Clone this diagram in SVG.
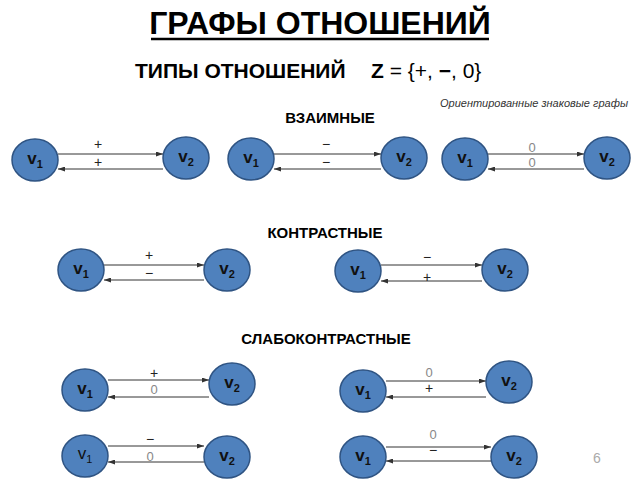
<svg xmlns="http://www.w3.org/2000/svg" width="640" height="480" viewBox="0 0 640 480">
<defs>
<marker id="ah" markerWidth="7" markerHeight="5" refX="7" refY="2.5" orient="auto" markerUnits="userSpaceOnUse">
<path d="M0,0 L7,2.5 L0,5 z" fill="#333"/>
</marker>
<style>
.t{font-family:"Liberation Sans",Arial,sans-serif;fill:#000}
.n ellipse{fill:#4f81bd;stroke:#2f5483;stroke-width:1.5}
.n text{font-family:"Liberation Sans",Arial,sans-serif;font-weight:bold;font-size:17px;fill:#111;text-anchor:middle}
.n text tspan{font-size:11px}
.e line{stroke:#333;stroke-width:1;marker-end:url(#ah)}
.l{font-family:"Liberation Sans",Arial,sans-serif;font-size:14px;fill:#222;text-anchor:middle}
.z{fill:#888;font-size:13px}
</style>
</defs>
<rect width="640" height="480" fill="#fff"/>
<text class="t" x="320" y="34" font-size="32" font-weight="bold" text-anchor="middle">ГРАФЫ ОТНОШЕНИЙ</text>
<line x1="151" y1="39" x2="489" y2="39" stroke="#000" stroke-width="2.5"/>
<text class="t" x="135" y="78" font-size="21" font-weight="bold">ТИПЫ ОТНОШЕНИЙ</text>
<text class="t" x="371" y="78" font-size="21"><tspan font-weight="bold">Z</tspan> = {+, <tspan font-weight="bold">−</tspan>, 0}</text>
<text class="t" x="628" y="107" font-size="11" font-style="italic" text-anchor="end" style="fill:#333">Ориентированные знаковые графы</text>
<text class="t" x="330" y="123" font-size="15" font-weight="bold" text-anchor="middle">ВЗАИМНЫЕ</text>
<text class="t" x="325" y="238" font-size="15" font-weight="bold" text-anchor="middle">КОНТРАСТНЫЕ</text>
<text class="t" x="326" y="344" font-size="15" font-weight="bold" text-anchor="middle">СЛАБОКОНТРАСТНЫЕ</text>
<text class="t" x="597" y="463" font-size="14" text-anchor="middle" style="fill:#aaa">6</text>

<g id="connectors" class="e">
<line x1="58" y1="154" x2="163" y2="154"/>
<line x1="163" y1="169" x2="58" y2="169"/>
<line x1="274" y1="154" x2="381" y2="154"/>
<line x1="381" y1="169" x2="274" y2="169"/>
<line x1="488" y1="154" x2="584" y2="154"/>
<line x1="584" y1="169" x2="488" y2="169"/>
<line x1="104" y1="265" x2="204" y2="265"/>
<line x1="204" y1="280" x2="104" y2="280"/>
<line x1="381" y1="265" x2="482" y2="265"/>
<line x1="482" y1="281" x2="381" y2="281"/>
<line x1="108" y1="380" x2="209" y2="380"/>
<line x1="209" y1="397" x2="108" y2="397"/>
<line x1="386" y1="381" x2="486" y2="381"/>
<line x1="486" y1="397" x2="386" y2="397"/>
<line x1="108" y1="446" x2="204" y2="446"/>
<line x1="204" y1="462" x2="108" y2="462"/>
<line x1="386" y1="447" x2="491" y2="447"/>
<line x1="491" y1="461" x2="386" y2="461"/>
</g>
<g id="edge-labels">
<text class="l" x="98" y="149">+</text>
<text class="l" x="98" y="167">+</text>
<text class="l" x="326" y="149">−</text>
<text class="l" x="326" y="167">−</text>
<text class="l z" x="532" y="152">0</text>
<text class="l z" x="532" y="167">0</text>
<text class="l" x="149" y="260">+</text>
<text class="l" x="149" y="278">−</text>
<text class="l" x="427" y="262">−</text>
<text class="l" x="427" y="282">+</text>
<text class="l" x="154" y="378">+</text>
<text class="l z" x="154" y="394">0</text>
<text class="l z" x="429" y="377">0</text>
<text class="l" x="429" y="393">+</text>
<text class="l" x="150" y="444">−</text>
<text class="l z" x="150" y="461">0</text>
<text class="l z" x="433" y="439">0</text>
<text class="l" x="433" y="455">−</text>
</g>

<g id="r1g1v1" class="n"><ellipse cx="35" cy="160" rx="23" ry="21"/><text x="35" y="164">v<tspan dy="4">1</tspan></text></g>
<g id="r1g1v2" class="n"><ellipse cx="186" cy="158" rx="23" ry="21"/><text x="186" y="162">v<tspan dy="4">2</tspan></text></g>
<g id="r1g2v1" class="n"><ellipse cx="251" cy="159" rx="23" ry="21"/><text x="251" y="163">v<tspan dy="4">1</tspan></text></g>
<g id="r1g2v2" class="n"><ellipse cx="404" cy="158" rx="23" ry="21"/><text x="404" y="162">v<tspan dy="4">2</tspan></text></g>
<g id="r1g3v1" class="n"><ellipse cx="465" cy="159" rx="23" ry="21"/><text x="465" y="163">v<tspan dy="4">1</tspan></text></g>
<g id="r1g3v2" class="n"><ellipse cx="607" cy="158" rx="23" ry="21"/><text x="607" y="162">v<tspan dy="4">2</tspan></text></g>

<g id="r2g1v1" class="n"><ellipse cx="81" cy="270" rx="23" ry="21"/><text x="81" y="274">v<tspan dy="4">1</tspan></text></g>
<g id="r2g1v2" class="n"><ellipse cx="227" cy="270" rx="23" ry="21"/><text x="227" y="274">v<tspan dy="4">2</tspan></text></g>
<g id="r2g2v1" class="n"><ellipse cx="358" cy="271" rx="23" ry="21"/><text x="358" y="275">v<tspan dy="4">1</tspan></text></g>
<g id="r2g2v2" class="n"><ellipse cx="505" cy="270" rx="23" ry="21"/><text x="505" y="274">v<tspan dy="4">2</tspan></text></g>

<g id="r3g1v1" class="n"><ellipse cx="85" cy="390" rx="23" ry="21"/><text x="85" y="394">v<tspan dy="4">1</tspan></text></g>
<g id="r3g1v2" class="n"><ellipse cx="232" cy="384" rx="23" ry="21"/><text x="232" y="388">v<tspan dy="4">2</tspan></text></g>
<g id="r3g2v1" class="n"><ellipse cx="363" cy="391" rx="23" ry="21"/><text x="363" y="395">v<tspan dy="4">1</tspan></text></g>
<g id="r3g2v2" class="n"><ellipse cx="509" cy="382" rx="23" ry="21"/><text x="509" y="386">v<tspan dy="4">2</tspan></text></g>

<g id="r4g1v1" class="n"><ellipse cx="85" cy="456" rx="23" ry="21"/><text x="85" y="459" style="font-weight:normal">v<tspan dy="4">1</tspan></text></g>
<g id="r4g1v2" class="n"><ellipse cx="227" cy="457" rx="23" ry="21"/><text x="227" y="461">v<tspan dy="4">2</tspan></text></g>
<g id="r4g2v1" class="n"><ellipse cx="363" cy="457" rx="23" ry="21"/><text x="363" y="461">v<tspan dy="4">1</tspan></text></g>
<g id="r4g2v2" class="n"><ellipse cx="514" cy="457" rx="23" ry="21"/><text x="514" y="461">v<tspan dy="4">2</tspan></text></g>
</svg>
